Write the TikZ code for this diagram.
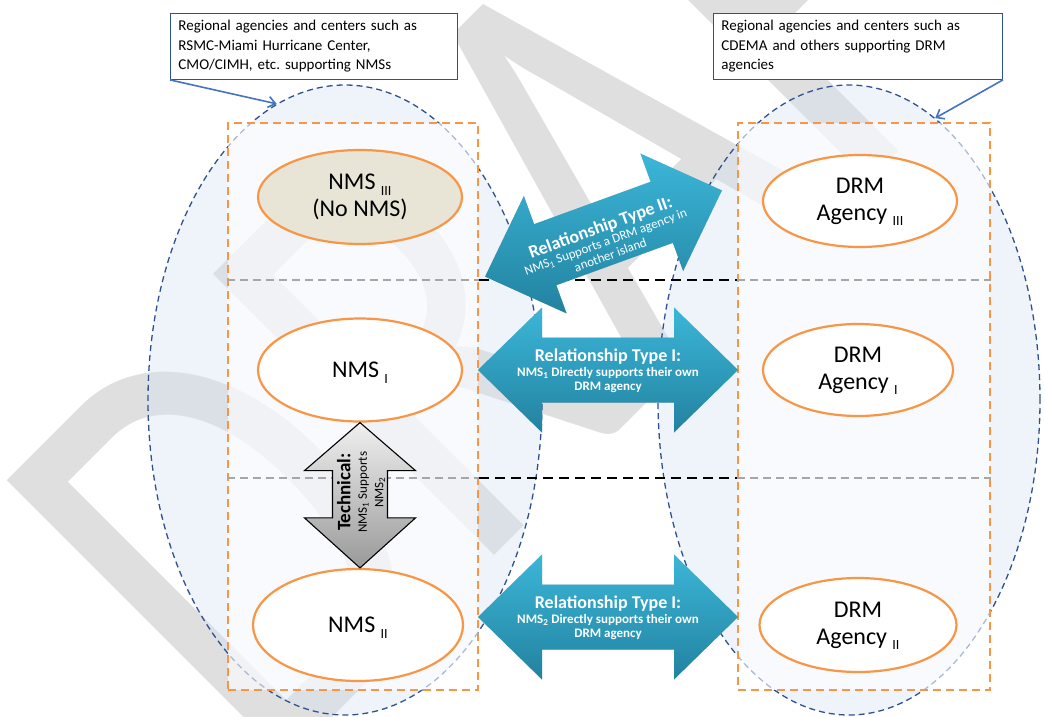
\documentclass[tikz,border=0pt]{standalone}
\usepackage{fontspec}
\setmainfont{Carlito}
\usetikzlibrary{shapes.geometric,arrows.meta,calc}

\definecolor{navy}{RGB}{47,82,143}
\definecolor{haze}{RGB}{215,226,242}
\definecolor{tangerine}{RGB}{247,150,70}
\definecolor{sand}{RGB}{232,228,214}
\definecolor{tealtop}{RGB}{60,182,216}
\definecolor{tealbot}{RGB}{34,130,160}
\definecolor{pointerblue}{RGB}{68,114,196}
\definecolor{markgray}{RGB}{223,223,223}

% lowered roman index after a unit name
\newcommand{\lowsub}[1]{\raisebox{-5.5pt}[0pt][0pt]{\fontsize{14}{14}\selectfont #1}}

% two-headed block arrow: style, centre, angle, half length, head length,
% head half width, shaft half width
\newcommand{\twohead}[7]{%
  \path[#1,shift={#2},rotate=#3]
    (-#4,0) -- ({-#4+#5},{-#6}) -- ({-#4+#5},{-#7}) -- ({#4-#5},{-#7})
    -- ({#4-#5},{-#6}) -- (#4,0) -- ({#4-#5},{#6}) -- ({#4-#5},{#7})
    -- ({-#4+#5},{#7}) -- ({-#4+#5},{#6}) -- cycle;}

\begin{document}
\frenchspacing
\begin{tikzpicture}[x=1pt,y=-1pt,
  zone/.style={ellipse, draw=navy, line width=1.3pt, dash pattern=on 6pt off 4pt,
    fill=haze, fill opacity=0.4, inner sep=0},
  column/.style={rectangle, draw=tangerine, line width=2pt, dash pattern=on 8pt off 5pt,
    fill=white, fill opacity=0.6, inner sep=0},
  unit/.style={ellipse, draw=tangerine, line width=2.2pt, fill=white, inner sep=0,
    align=center, font=\fontsize{24}{27}\selectfont},
  callout/.style={rectangle, draw=navy, line width=0.9pt, fill=white, align=left,
    font=\fontsize{15}{19.5}\selectfont, inner xsep=8pt, inner ysep=0,
    minimum height=66pt, anchor=north west},
  pointer/.style={draw=pointerblue, line width=1.6pt,
    -{Straight Barb[length=7pt,width=11pt]}},
  rowline/.style={draw=black!35, line width=2pt, dash pattern=on 8pt off 5pt},
  gapline/.style={draw=black, line width=2pt, dash pattern=on 10pt off 6pt},
  bluebody/.style={top color=tealtop, bottom color=tealbot},
  blueshadow/.style={fill=black, fill opacity=0.22, xshift=1.5pt, yshift=-3pt},
  techbody/.style={top color=black!6, bottom color=black!40, draw=black, line width=1.1pt,
    line join=miter},
  arrowtext/.style={text=white, align=center, inner sep=0},
]
\useasboundingbox (0,0) rectangle (1045,716);

% watermark
\begin{scope}
  \clip (0,0) rectangle (1045,716);
  \node[rotate=45, anchor=base west, inner sep=0, text=markgray,
    font=\fontsize{473}{473}\selectfont] (mark) at (265,785)
    {\scalebox{1}[1.31]{DRAFT}};
\end{scope}

% regional zones
\node[zone, minimum width=394pt, minimum height=630pt] (zoneL) at (345,400) {};
\node[zone, minimum width=382pt, minimum height=630pt] (zoneR) at (849,400) {};

% national columns
\node[column, minimum width=250pt, minimum height=567pt] (colL) at (353,406.5) {};
\node[column, minimum width=252pt, minimum height=567pt] (colR) at (864,406.5) {};

% row separators
\coordinate (rowA) at (0,280);
\coordinate (rowB) at (0,478);
\foreach \r in {rowA,rowB}{
  \draw[rowline] (colL.west |- \r) -- (colL.east |- \r);
  \draw[rowline] (colR.west |- \r) -- (colR.east |- \r);
  \draw[gapline] (colL.east |- \r) -- (colR.west |- \r);
}

% units
\node[unit, fill=sand, minimum width=204pt, minimum height=94pt] (nms3) at (360,197)
  {NMS \lowsub{III}\\(No NMS)};
\node[unit, minimum width=204pt, minimum height=103pt] (nms1) at (360,370) {NMS \lowsub{I}};
\node[unit, minimum width=210pt, minimum height=112pt] (nms2) at (358,625) {NMS \lowsub{II}};
\node[unit, minimum width=194pt, minimum height=92pt] (drm3) at (860,201)
  {DRM\\Agency \lowsub{III}};
\node[unit, minimum width=190pt, minimum height=92pt] (drm1) at (858,370)
  {DRM\\Agency \lowsub{I}};
\node[unit, minimum width=197pt, minimum height=94pt] (drm2) at (858,625)
  {DRM\\Agency \lowsub{II}};

% relationship arrows
\coordinate (lowrow) at (0,617);
\coordinate (linkX) at (603.5,233.5);
\coordinate (linkI) at ($(colL.east |- nms1)!0.5!(colR.west |- nms1)$);
\coordinate (linkII) at ($(colL.east |- lowrow)!0.5!(colR.west |- lowrow)$);

\twohead{blueshadow}{(linkX)}{20}{126}{64}{62.5}{32.5}
\twohead{bluebody}{(linkX)}{20}{126}{64}{62.5}{32.5}
\twohead{blueshadow}{(linkI)}{0}{130}{64}{62.5}{32.5}
\twohead{bluebody}{(linkI)}{0}{130}{64}{62.5}{32.5}
\twohead{blueshadow}{(linkII)}{0}{130}{64}{62.5}{32.5}
\twohead{bluebody}{(linkII)}{0}{130}{64}{62.5}{32.5}

\node[arrowtext, rotate=20, font=\fontsize{13}{14}\selectfont] (relX) at (605,240)
  {{\bfseries\fontsize{18}{19}\selectfont Relationship Type II:}\\
   NMS\textsubscript{1} Supports a DRM agency in\\another island};
\node[arrowtext, font=\bfseries\fontsize{13}{14.5}\selectfont] (relI) at ($(linkI)+(0,1)$)
  {{\fontsize{18}{19}\selectfont Relationship Type I:}\\
   NMS\textsubscript{1} Directly supports their own\\DRM agency};
\node[arrowtext, font=\bfseries\fontsize{13}{14.5}\selectfont] (relII) at ($(linkII)+(0,1)$)
  {{\fontsize{18}{19}\selectfont Relationship Type I:}\\
   NMS\textsubscript{2} Directly supports their own\\DRM agency};

% technical support arrow
\coordinate (tipT) at (nms1.south);
\coordinate (tipB) at (nms1.south |- nms2.north);
\path[techbody] (tipT) -- ++(55.5,48) -- ++(-28,0) -- ($(tipB)+(27.5,-50)$) -- ++(28,0)
  -- (tipB) -- ++(-55.5,-50) -- ++(28,0) -- ($(tipT)+(-27.5,48)$) -- ++(-28,0) -- cycle;
\node[rotate=90, align=center, inner sep=0, font=\fontsize{13}{16.5}\selectfont] (tech)
  at ($(tipT)!0.5!(tipB)+(1,-3)$)
  {{\bfseries\fontsize{19}{17}\selectfont Technical:}\\
   NMS\textsubscript{1} Supports\\NMS\textsubscript{2}};

% callouts
\node[callout, text width=271pt] (noteL) at (170,13)
  {Regional agencies and centers such as\\RSMC-Miami Hurricane Center,\\CMO/CIMH, etc. supporting NMSs};
\node[callout, text width=273pt] (noteR) at (713,13)
  {Regional agencies and centers such as\\CDEMA and others supporting DRM\\agencies};
\draw[pointer] (noteL.south west) -- (zoneL.103.5);
\draw[pointer] (noteR.south east) -- (zoneR.73.6);
\end{tikzpicture}
\end{document}
